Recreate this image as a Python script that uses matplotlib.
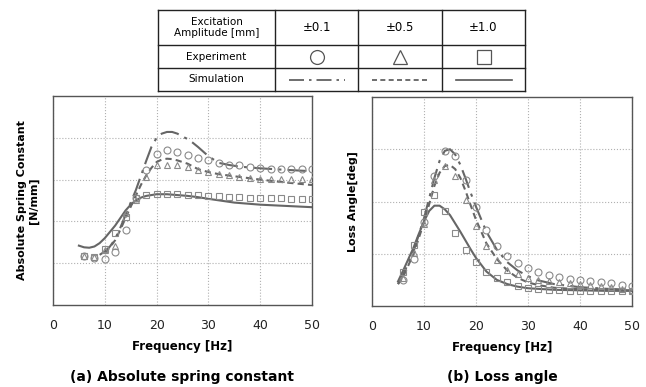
import numpy as np
import matplotlib.pyplot as plt

# experiment frequencies [Hz]
freq_exp = np.arange(6, 51, 2)

# (a) absolute spring constant, experiment (arbitrary units, axis 0-5)
k_exp_01 = [1.18, 1.12, 1.10, 1.26, 1.80, 2.56, 3.22, 3.62, 3.70, 3.67, 3.60, 3.52,
            3.46, 3.40, 3.36, 3.34, 3.31, 3.28, 3.26, 3.26, 3.26, 3.26, 3.26]
k_exp_05 = [1.18, 1.16, 1.32, 1.40, 2.20, 2.52, 3.06, 3.34, 3.36, 3.34, 3.30, 3.24,
            3.18, 3.14, 3.10, 3.06, 3.04, 3.02, 3.02, 3.02, 3.02, 3.02, 3.02]
k_exp_10 = [1.18, 1.14, 1.34, 1.72, 2.10, 2.56, 2.64, 2.66, 2.66, 2.65, 2.63, 2.62,
            2.61, 2.60, 2.59, 2.58, 2.57, 2.56, 2.55, 2.55, 2.54, 2.54, 2.53]

# (a) simulation
k_sim_01_f = [9, 10, 11, 12, 13, 14, 15, 16, 17, 18, 19, 20, 21, 22, 23, 24, 25, 26,
              27, 28, 29, 30, 32, 34, 36, 40, 44, 50]
k_sim_01 = [1.20, 1.28, 1.40, 1.58, 1.85, 2.15, 2.45, 2.75, 3.10, 3.45, 3.78, 4.00,
            4.10, 4.14, 4.14, 4.10, 4.03, 3.97, 3.88, 3.78, 3.67, 3.56, 3.40, 3.35,
            3.31, 3.27, 3.24, 3.20]
k_sim_05_f = [10, 11, 12, 13, 14, 15, 16, 17, 18, 19, 20, 21, 22, 23, 24, 26, 28, 30,
              32, 35, 40, 45, 50]
k_sim_05 = [1.25, 1.38, 1.55, 1.80, 2.08, 2.35, 2.62, 2.88, 3.10, 3.28, 3.42, 3.48,
            3.50, 3.49, 3.46, 3.38, 3.25, 3.18, 3.13, 3.08, 3.00, 2.93, 2.87]
k_sim_10_f = [5, 6, 7, 8, 9, 10, 11, 12, 13, 14, 15, 16, 17, 18, 20, 22, 24, 26, 28,
              30, 35, 40, 45, 50]
k_sim_10 = [1.42, 1.38, 1.37, 1.40, 1.48, 1.60, 1.75, 1.90, 2.08, 2.26, 2.40, 2.50,
            2.57, 2.61, 2.65, 2.65, 2.63, 2.61, 2.58, 2.54, 2.45, 2.40, 2.37, 2.34]

# (b) loss angle, experiment (arbitrary units, axis 0-4)
la_exp_01 = [0.49, 0.90, 1.60, 2.49, 2.97, 2.88, 2.42, 1.90, 1.46, 1.15, 0.96, 0.82,
             0.72, 0.65, 0.60, 0.55, 0.51, 0.49, 0.47, 0.45, 0.44, 0.40, 0.39]
la_exp_05 = [0.53, 1.01, 1.56, 2.42, 2.67, 2.49, 2.03, 1.53, 1.14, 0.88, 0.69, 0.62,
             0.53, 0.49, 0.47, 0.45, 0.44, 0.42, 0.40, 0.38, 0.36, 0.33, 0.31]
la_exp_10 = [0.65, 1.17, 1.79, 2.12, 1.82, 1.40, 1.07, 0.84, 0.66, 0.54, 0.45, 0.39,
             0.35, 0.32, 0.31, 0.30, 0.29, 0.29, 0.28, 0.28, 0.28, 0.28, 0.28]

# (b) simulation
la_sim_f = [5, 6, 8, 10, 12, 13, 14, 15, 16, 17, 18, 19, 20, 22, 24, 26, 28, 30, 32,
            35, 40, 45, 50]
la_sim_01 = [0.42, 0.60, 1.05, 1.68, 2.45, 2.78, 2.97, 3.00, 2.90, 2.70, 2.44, 2.16,
             1.90, 1.42, 1.08, 0.84, 0.68, 0.57, 0.49, 0.42, 0.36, 0.33, 0.31]
la_sim_05 = [0.42, 0.56, 1.00, 1.60, 2.30, 2.55, 2.68, 2.70, 2.62, 2.45, 2.20, 1.92,
             1.65, 1.20, 0.90, 0.68, 0.54, 0.45, 0.40, 0.35, 0.32, 0.31, 0.30]
la_sim_10_f = [5, 6, 7, 8, 9, 10, 11, 12, 13, 14, 15, 16, 17, 18, 19, 20, 22, 24, 26,
               28, 30, 35, 40, 45, 50]
la_sim_10 = [0.47, 0.68, 0.90, 1.12, 1.38, 1.62, 1.82, 1.92, 1.92, 1.85, 1.74, 1.58,
             1.42, 1.25, 1.08, 0.92, 0.66, 0.50, 0.42, 0.37, 0.34, 0.31, 0.30, 0.29, 0.29]

amplitudes = ["±0.1", "±0.5", "±1.0"]
markers = ["o", "^", "s"]
linestyles = [(0, (9, 3, 1.5, 3)), (0, (3, 2)), "-"]

MARK_C = "#8a8a8a"
LINE_C = "#666666"
W, H = 646, 387

fig = plt.figure(figsize=(W / 100, H / 100), dpi=100)


def px_axes(x0, y0, x1, y1):
    return fig.add_axes([x0 / W, 1 - y1 / H, (x1 - x0) / W, (y1 - y0) / H])


def style(ax, ymax, ylabel):
    ax.set_xlim(0, 50)
    ax.set_ylim(0, ymax)
    ax.set_xticks([0, 10, 20, 30, 40, 50])
    ax.set_yticks(range(1, ymax))
    ax.tick_params(axis="x", length=0, pad=10, labelsize=9, labelcolor="#222222")
    ax.tick_params(axis="y", length=0, labelleft=False)
    ax.grid(True, color="#b0b0b0", linestyle=":", linewidth=0.8)
    for s in ax.spines.values():
        s.set_color("#555555")
        s.set_linewidth(1.0)
    ax.set_xlabel("Frequency [Hz]", fontsize=8.5, fontweight="bold", labelpad=6)
    ax.set_ylabel(ylabel, fontsize=8, fontweight="bold", labelpad=10)


def draw(ax, exp_sets, sim_sets):
    for (f, v), ls in zip(sim_sets, linestyles):
        ax.plot(f, v, color=LINE_C, linestyle=ls, linewidth=1.5, zorder=2)
    for y, m in zip(exp_sets, markers):
        ax.plot(freq_exp, y, linestyle="none", marker=m, markersize=5,
                markerfacecolor="none", markeredgecolor=MARK_C,
                markeredgewidth=0.8, zorder=3)


ax1 = px_axes(53, 96, 312, 305)
draw(ax1, [k_exp_01, k_exp_05, k_exp_10],
     [(k_sim_01_f, k_sim_01), (k_sim_05_f, k_sim_05), (k_sim_10_f, k_sim_10)])
style(ax1, 5, "Absolute Spring Constant\n[N/mm]")

ax2 = px_axes(372, 97, 632, 306)
draw(ax2, [la_exp_01, la_exp_05, la_exp_10],
     [(la_sim_f, la_sim_01), (la_sim_f, la_sim_05), (la_sim_10_f, la_sim_10)])
style(ax2, 4, "Loss Angle[deg]")

fig.text(182.5 / W, 1 - 377 / H, "(a) Absolute spring constant", ha="center",
         va="center", fontsize=10, fontweight="bold")
fig.text(502 / W, 1 - 377 / H, "(b) Loss angle", ha="center", va="center",
         fontsize=10, fontweight="bold")

# legend table on top
col_edges = [0, 117, 200, 284, 367]
row_edges = [0, 23, 46, 81]  # from bottom
tab = px_axes(158, 10, 525, 91)
tab.set_xlim(0, 367)
tab.set_ylim(0, 81)
tab.axis("off")
for xe in col_edges:
    tab.plot([xe, xe], [0, 81], color="#222222", lw=1.0, clip_on=False)
for ye in row_edges:
    tab.plot([0, 367], [ye, ye], color="#222222", lw=1.0, clip_on=False)
mids_y = [(row_edges[i] + row_edges[i + 1]) / 2 for i in range(3)]
tab.text(58.5, mids_y[2], "Excitation\nAmplitude [mm]", ha="center", va="center",
         fontsize=7.5, linespacing=1.05)
tab.text(58.5, mids_y[1], "Experiment", ha="center", va="center", fontsize=7.5)
tab.text(58.5, mids_y[0], "Simulation", ha="center", va="center", fontsize=7.5)
for i in range(3):
    cx = (col_edges[i + 1] + col_edges[i + 2]) / 2
    tab.text(cx, mids_y[2], amplitudes[i], ha="center", va="center", fontsize=8.5)
    tab.plot([cx], [mids_y[1]], marker=markers[i], markersize=10,
             markerfacecolor="none", markeredgecolor="#555555", markeredgewidth=0.9)
    tab.plot([cx - 28, cx + 28], [mids_y[0], mids_y[0]], color="#555555",
             linestyle=linestyles[i], linewidth=1.2)

fig.savefig("out.png", dpi=100)
